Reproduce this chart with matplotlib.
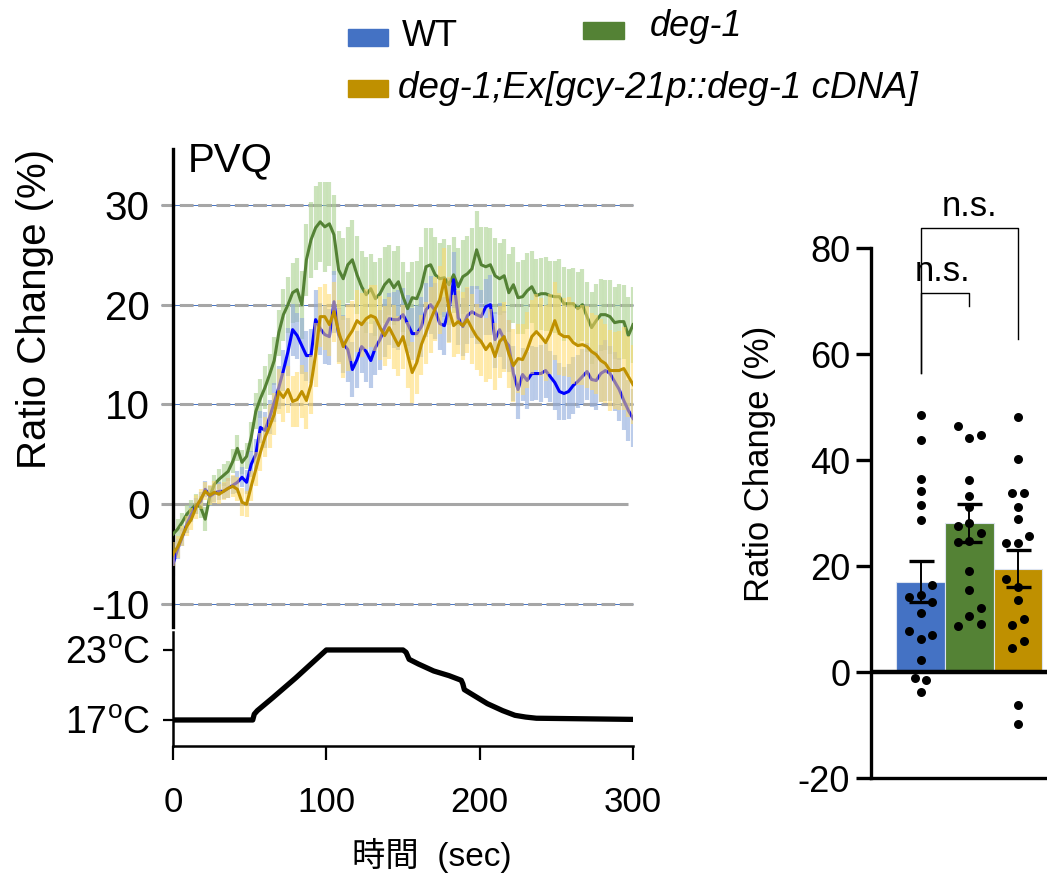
import numpy as np
import matplotlib
matplotlib.use("Agg")
import matplotlib.pyplot as plt
from matplotlib.patches import Rectangle

plt.rcParams.update({"font.family": ["Liberation Sans", "Noto Sans CJK JP"],
                     "mathtext.fontset": "custom", "mathtext.rm": "Liberation Sans",
                     "axes.unicode_minus": False,
                     "text.color": "black", "axes.labelcolor": "black",
                     "xtick.color": "black", "ytick.color": "black"})

time = np.arange(0, 301, 3)

wt_mean = [-6.0, -4.5, -3.3, -2.0, -1.0, -0.2, 0.3, 1.5, 0.8, 1.1,
           1.3, 1.3, 1.6, 1.9, 2.2, 2.7, 2.2, 4.0, 5.0, 7.7,
           7.4, 8.7, 10.2, 11.7, 13.4, 15.3, 17.5, 16.9, 15.9, 14.9,
           14.9, 18.5, 17.6, 17.0, 16.8, 20.3, 17.0, 16.1, 15.5, 13.5,
           14.5, 15.8, 15.3, 14.4, 15.7, 16.5, 17.7, 18.6, 18.5, 18.5,
           19.0, 18.1, 17.1, 17.1, 17.8, 19.5, 20.0, 19.4, 18.1, 17.9,
           19.5, 22.5, 18.7, 17.8, 18.9, 19.3, 19.0, 18.8, 19.8, 20.0,
           16.5, 17.5, 16.5, 15.9, 13.1, 11.5, 13.0, 12.4, 13.1, 13.1,
           13.1, 13.4, 12.8, 12.2, 11.3, 11.1, 11.3, 11.9, 12.3, 12.8,
           13.3, 12.5, 12.4, 13.1, 13.4, 13.1, 12.3, 11.5, 10.4, 9.4,
           8.6]
wt_sem = [1.2, 1.0, 0.9, 0.9, 0.8, 0.8, 0.9, 0.8, 1.0, 0.9,
          0.9, 0.8, 1.0, 0.9, 1.1, 1.0, 1.2, 1.3, 1.5, 1.6,
          1.8, 1.7, 2.0, 2.2, 2.1, 2.4, 2.6, 2.3, 2.8, 2.5,
          2.7, 3.0, 2.6, 2.9, 2.8, 3.1, 2.7, 2.9, 3.2, 2.8,
          2.9, 2.6, 3.0, 2.8, 2.7, 3.0, 2.9, 2.6, 2.8, 3.0,
          2.7, 2.9, 2.6, 2.8, 3.0, 2.7, 2.9, 2.8, 2.6, 2.9,
          3.2, 2.8, 2.7, 2.9, 2.8, 2.6, 2.9, 2.7, 2.8, 3.0,
          2.8, 2.7, 2.9, 2.6, 2.8, 3.0, 2.7, 2.9, 2.8, 2.7,
          2.9, 2.8, 2.6, 2.8, 2.9, 2.7, 2.8, 2.9, 2.7, 2.8,
          2.9, 2.8, 3.0, 2.9, 3.1, 2.8, 3.0, 3.2, 3.0, 3.1,
          2.9]

deg1_mean = [-3.0, -2.5, -1.8, -1.0, -0.5, 0.0, -0.3, -1.5, 0.8, 2.0,
             2.5, 2.9, 3.3, 4.3, 5.6, 4.2, 4.8, 6.7, 9.3, 10.6,
             11.7, 13.0, 14.4, 17.2, 19.0, 20.0, 21.2, 21.5, 20.0, 24.5,
             26.5, 27.7, 28.3, 27.8, 28.1, 27.0, 23.5, 22.6, 24.0, 24.5,
             23.0, 21.8, 21.0, 21.6, 20.6, 21.1, 22.0, 22.5, 21.7, 22.3,
             20.8, 19.6, 20.7, 20.6, 21.8, 23.8, 24.0, 23.0, 22.6, 22.7,
             22.0, 23.0, 21.8, 22.8, 23.1, 23.6, 25.5, 24.0, 23.8, 24.0,
             22.9, 22.6, 22.9, 21.2, 22.0, 20.7, 20.8, 21.4, 21.8, 20.9,
             21.1, 21.1, 20.9, 20.8, 20.8, 20.1, 20.1, 20.1, 19.6, 20.0,
             18.8, 17.7, 18.4, 19.0, 19.0, 18.8, 18.2, 18.3, 18.3, 16.9,
             18.0]
deg1_sem = [1.0, 1.0, 0.9, 0.9, 0.9, 1.0, 1.1, 1.2, 1.0, 0.9,
            1.0, 1.1, 1.0, 1.2, 1.3, 1.2, 1.3, 1.5, 1.8, 2.0,
            2.2, 2.1, 2.4, 2.3, 2.6, 2.8, 3.0, 3.2, 3.4, 3.6,
            3.8, 4.2, 4.0, 4.5, 4.2, 4.0, 3.9, 4.1, 3.8, 4.0,
            3.9, 3.6, 3.8, 3.5, 3.7, 3.6, 3.8, 3.5, 3.7, 3.6,
            3.5, 3.7, 3.6, 3.8, 4.0, 3.9, 3.7, 3.8, 3.6, 3.9,
            4.0, 3.8, 3.9, 3.7, 3.8, 4.1, 3.9, 3.8, 4.0, 3.7,
            3.8, 3.6, 3.7, 3.9, 3.8, 3.6, 3.7, 3.8, 3.6, 3.7,
            3.6, 3.7, 3.5, 3.6, 3.8, 3.7, 3.5, 3.6, 3.7, 3.6,
            3.5, 3.6, 3.7, 3.6, 3.5, 3.7, 3.6, 3.8, 3.7, 3.9,
            3.8]

rescue_mean = [-5.0, -4.3, -3.2, -2.2, -1.5, -0.3, 0.5, 1.3, 0.9, 1.2,
               1.0, 1.3, 1.6, 1.8, 1.5, 0.2, 0.0, 1.8, 3.5, 5.2,
               6.7, 7.8, 9.0, 11.3, 10.7, 11.5, 10.3, 10.5, 11.3, 10.4,
               12.0, 15.0, 18.8, 18.8, 18.0, 19.3, 17.3, 15.8, 16.7, 17.4,
               18.4, 18.0, 18.6, 18.9, 18.7, 17.7, 16.9, 17.7, 16.8, 15.9,
               16.8, 15.0, 13.2, 14.2, 16.0, 17.2, 18.5, 19.6, 20.5, 22.5,
               19.5, 17.9, 18.3, 17.9, 18.5, 17.6, 16.8, 16.3, 15.5, 16.1,
               14.8, 16.3, 16.8, 15.1, 13.9, 14.6, 14.5, 15.5, 16.8, 17.3,
               16.8, 16.2, 17.1, 18.4, 17.1, 16.8, 16.8, 16.2, 15.9, 16.0,
               15.8, 15.3, 15.0, 14.4, 14.1, 13.4, 13.4, 13.4, 13.6, 12.8,
               12.0]
rescue_sem = [1.2, 1.1, 1.0, 1.0, 1.1, 1.2, 1.0, 0.9, 1.0, 1.1,
              1.0, 0.9, 1.0, 1.1, 1.2, 1.4, 1.3, 1.5, 1.7, 1.9,
              2.0, 2.2, 2.1, 2.3, 2.5, 2.4, 2.6, 2.8, 2.7, 2.9,
              3.0, 3.2, 3.0, 3.3, 3.1, 3.0, 3.2, 3.1, 3.3, 3.0,
              3.1, 3.2, 3.0, 3.1, 3.3, 3.2, 3.0, 3.1, 3.2, 3.0,
              3.2, 3.3, 3.1, 3.2, 3.0, 3.1, 3.3, 3.2, 3.4, 3.2,
              3.3, 3.1, 3.2, 3.4, 3.3, 3.5, 3.3, 3.4, 3.2, 3.5,
              3.4, 3.6, 3.5, 3.4, 3.7, 3.5, 3.6, 3.8, 3.7, 3.8,
              3.9, 3.8, 4.0, 3.9, 4.1, 3.9, 4.0, 4.1, 3.9, 4.0,
              4.1, 3.9, 4.0, 4.2, 4.0, 4.1, 3.9, 4.0, 4.2, 4.1,
              4.0]

# ---- temperature protocol ----
temp_t = [0, 52, 53, 55, 65, 80, 100, 150, 152, 154, 160, 170, 180, 188, 189, 190,
          195, 205, 215, 223, 230, 237, 300]
temp_c = [17.0, 17.0, 17.5, 17.8, 18.9, 20.6, 23.0, 23.0, 22.8, 22.2, 21.8, 21.2,
          20.8, 20.4, 20.1, 19.6, 19.2, 18.4, 17.8, 17.4, 17.25, 17.15, 17.05]

# ---- bar graph ----
groups = ["WT", "deg-1", "rescue"]
bar_mean = [17.0, 28.1, 19.5]
bar_sem = [3.85, 3.6, 3.55]
wt_pts = [48.4, 43.8, 36.4, 34.1, 31.6, 28.6, 16.4, 14.5, 14.1, 13.3, 11.1, 7.8,
          7.0, 6.2, 2.2, -1.1, -1.6, -3.8]
deg1_pts = [46.5, 44.8, 44.1, 36.2, 33.3, 31.1, 28.1, 27.6, 26.3, 24.8, 24.6, 19.0,
            15.4, 12.1, 10.5, 9.1, 8.7]
rescue_pts = [48.1, 40.2, 33.8, 33.8, 31.2, 28.8, 25.6, 24.4, 24.3, 17.5, 16.1, 13.5,
              10.0, 8.8, 5.9, 4.6, -6.2, -9.9]
# swarm columns for the dots (layout only)
wt_cols = [0, 0, 0, 0, 0, 0, 1, 0, -1, 1, 0, -1, 1, 0, 0, -0.5, 0.5, 0]
deg1_cols = [-1, 1, 0, 0, 0, 0, 0, -1, 1, 0, -1, 0, 0, 1, 0, 1, -1]
rescue_cols = [0, 0, -0.5, 0.5, 0, 0, 1, 0, -1, -1, 0, 0, 0.5, -0.5, 0.5, -0.5, 0, 0]

c_blue, c_green, c_gold = "#4472c4", "#548235", "#bf9000"

W, H = 1047, 874
fig = plt.figure(figsize=(W / 100, H / 100), dpi=100)


def box(l, t, r, b):
    return [l / W, 1 - b / H, (r - l) / W, (b - t) / H]


# ================= trace panel =================
ax = fig.add_axes(box(173, 149, 633, 627))
for y in [30, 20, 10, -10]:
    ax.hlines(y, -8, 300, color="#4472c4", lw=0.7, zorder=1, clip_on=False)
    ax.hlines(y, -8, 300, color="#a6a6a6", lw=2.2, linestyles=(0, (4.5, 1.5)),
              zorder=1.1, clip_on=False)
ax.hlines(0, -8, 297, color="#a6a6a6", lw=2.2, zorder=1.1, clip_on=False)

t = time
m, s = np.array(deg1_mean), np.array(deg1_sem)
ax.vlines(t, m - s, m + s, color="#a9d18e", alpha=0.6, lw=3.0, zorder=2)
m, s = np.array(wt_mean), np.array(wt_sem)
ax.vlines(t, m - s, m + s, color="#8faadc", alpha=0.6, lw=3.0, zorder=2.1)
ax.plot(t, deg1_mean, color=c_green, lw=2.2, zorder=3)
ax.plot(t, wt_mean, color="#0000ff", lw=2.2, zorder=3.1)
m, s = np.array(rescue_mean), np.array(rescue_sem)
ax.vlines(t, m - s, m + s, color="#ffd966", alpha=0.55, lw=3.0, zorder=3.2)
ax.plot(t, rescue_mean, color=c_gold, lw=2.2, zorder=3.3)

ax.set_xlim(0, 300)
ax.set_ylim(-12.3, 35.6)
ax.set_yticks([30, 20, 10, 0, -10])
ax.set_xticks([])
ax.tick_params(axis="y", length=0, pad=17, labelsize=29)
for k in ["top", "right", "bottom"]:
    ax.spines[k].set_visible(False)
ax.spines["left"].set_linewidth(2.4)
fig.text(188 / W, 1 - 160 / H, "PVQ", fontsize=29, va="center")
fig.text(35 / W, 1 - 309 / H, "Ratio Change (%)", rotation=90, fontsize=29,
         ha="center", va="center")

# ================= temperature panel =================
axb = fig.add_axes(box(173, 632, 633, 746))
axb.plot(temp_t, temp_c, color="black", lw=3.8, solid_joinstyle="round")
axb.set_xlim(0, 300)
axb.set_ylim(14.77, 24.54)
axb.set_yticks([17, 23])
axb.set_yticklabels([r"17$^{\mathregular{o}}$C", r"23$^{\mathregular{o}}$C"])
axb.set_xticks([0, 100, 200, 300])
axb.tick_params(axis="x", length=10, width=1.6, pad=19, labelsize=25)
axb.tick_params(axis="y", length=7, width=1.6, pad=9, labelsize=27)
for k in ["top", "right"]:
    axb.spines[k].set_visible(False)
for k in ["left", "bottom"]:
    axb.spines[k].set_linewidth(1.8)
fig.text(432 / W, 1 - 855 / H, "時間  (sec)", fontsize=24, ha="center", va="center")

# ================= bar panel =================
axr = fig.add_axes(box(871, 248, 1047, 778))
pos = np.arange(3)
axr.bar(pos, bar_mean, width=1.0, color=[c_blue, c_green, c_gold],
        edgecolor="#dde4f0", lw=0.8, zorder=2)
axr.axhline(0, color="black", lw=3.2, zorder=3)
for p, pts, cols in zip(pos, [wt_pts, deg1_pts, rescue_pts],
                        [wt_cols, deg1_cols, rescue_cols]):
    axr.scatter(p + np.array(cols) * 0.24, pts, s=42, color="black", zorder=4,
                clip_on=False, linewidths=0)
axr.errorbar(pos, bar_mean, yerr=bar_sem, fmt="none", ecolor="black",
             elinewidth=1.4, capsize=9, capthick=2.4, zorder=5)
axr.set_xlim(-1.02, 2.6)
axr.set_ylim(-20, 80)
axr.set_yticks([-20, 0, 20, 40, 60, 80])
axr.set_xticks([])
axr.tick_params(axis="y", length=11, width=2.4, pad=4, labelsize=26)
for k in ["top", "right"]:
    axr.spines[k].set_visible(False)
for k in ["left", "bottom"]:
    axr.spines[k].set_linewidth(2.4)

axr.plot([0, 0, 2, 2], [56.5, 83.8, 83.8, 62.9], color="black", lw=1, clip_on=False)
axr.plot([0, 0, 1, 1], [56.5, 71.6, 71.6, 69.0], color="black", lw=1, clip_on=False)
axr.text(1, 87.8, "n.s.", ha="center", va="center", fontsize=25, clip_on=False)
axr.text(0.45, 75.6, "n.s.", ha="center", va="center", fontsize=25, clip_on=False)
fig.text(760 / W, 1 - 464 / H, "Ratio Change (%)", rotation=90, fontsize=25,
         ha="center", va="center")

# ================= legend =================
for (l, tp, r, b), c in zip([(348, 29, 388, 46), (583, 22, 624, 39), (348, 80, 388, 97)],
                            [c_blue, c_green, c_gold]):
    fig.add_artist(Rectangle((l / W, 1 - b / H), (r - l) / W, (b - tp) / H,
                             transform=fig.transFigure, color=c))
fig.text(402 / W, 1 - 36 / H, "WT", fontsize=26, va="center")
fig.text(650 / W, 1 - 26 / H, "deg-1", fontsize=26, style="italic", va="center")
fig.text(398 / W, 1 - 88 / H, "deg-1;Ex[gcy-21p::deg-1 cDNA]", fontsize=26.5,
         style="italic", va="center")

fig.savefig("out.png", dpi=100)
